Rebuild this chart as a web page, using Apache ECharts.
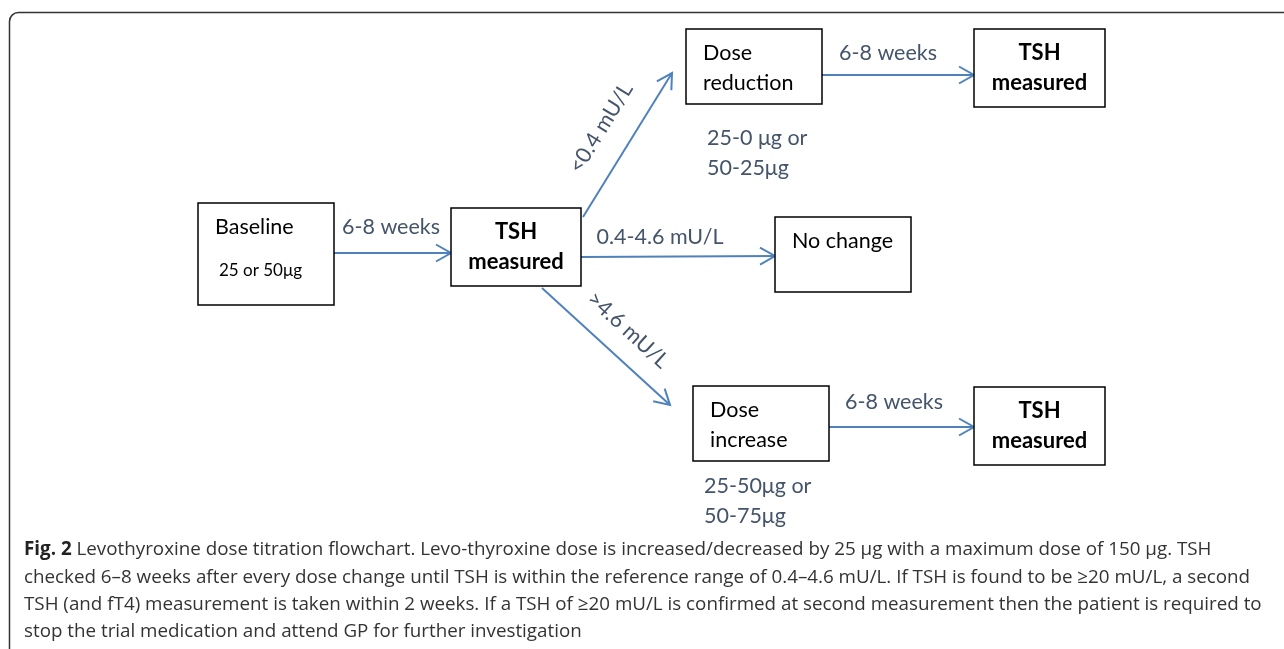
<!DOCTYPE html>
<html>
<head>
<meta charset="utf-8">
<script src="https://cdn.jsdelivr.net/npm/echarts@6/dist/echarts.min.js"></script>
<style>
  html, body { margin: 0; background: #fff; }
  #chart { width: 1284px; height: 649px; }
</style>
</head>
<body>
<div id="chart"></div>
<script>
// flowchart content, in diagram units (1 unit = 1 px of the reference)
const nodeLabels = ['Baseline', 'TSH\nmeasured', 'Dose\nreduction', 'TSH\nmeasured', 'No change', 'Dose\nincrease', 'TSH\nmeasured']
const nodeBold = [false, true, false, true, false, false, true]
const nodeBoxes = [
  [198, 203, 334, 305],
  [451, 208, 581, 286],
  [686, 29, 822, 104],
  [974, 29, 1105, 107],
  [775, 217, 911, 292],
  [693, 386, 829, 461],
  [974, 387, 1105, 465],
]
const edgePaths = [
  [334, 253, 451, 253],
  [583, 217, 672, 73],
  [581, 257, 775, 256],
  [542, 288, 670, 405],
  [822, 75, 974, 75],
  [829, 427, 974, 427],
]
const edgeLabels = ['6-8 weeks', '<0.4 mU/L', '0.4-4.6 mU/L', '>4.6 mU/L', '6-8 weeks', '6-8 weeks']
const edgeLabelAt = [[391, 227], [601, 128], [660, 237], [628, 330], [888, 53], [894, 402]]
const noteLabels = ['25 or 50μg', '25-0 μg or\n50-25μg', '25-50μg or\n50-75μg']
const noteAt = [[219, 271], [707, 138], [704, 486]]
const captionLines = [
  '{b|Fig. 2} Levothyroxine dose titration flowchart. Levo-thyroxine dose is increased/decreased by 25 μg with a maximum dose of 150 μg. TSH',
  'checked 6–8 weeks after every dose change until TSH is within the reference range of 0.4–4.6 mU/L. If TSH is found to be ≥20 mU/L, a second',
  'TSH (and fT4) measurement is taken within 2 weeks. If a TSH of ≥20 mU/L is confirmed at second measurement then the patient is required to',
  'stop the trial medication and attend GP for further investigation',
]

const FONT = 'Lato, "Open Sans", sans-serif'
const CAP_FONT = '"Open Sans", "Noto Sans", sans-serif'
const ARROW = '#4f81bd'
const LABEL = '#44546a'

const chart = echarts.init(document.getElementById('chart'))

function renderNode(params, api) {
  const i = params.dataIndex
  const b = nodeBoxes[i]
  const p0 = api.coord([b[0], b[1]])
  const p1 = api.coord([b[2], b[3]])
  const bold = nodeBold[i]
  return {
    type: 'group',
    children: [
      {
        type: 'rect',
        shape: { x: p0[0], y: p0[1], width: p1[0] - p0[0], height: p1[1] - p0[1] },
        style: { fill: '#fff', stroke: '#000', lineWidth: 1.5 },
      },
      {
        type: 'text',
        x: bold ? (p0[0] + p1[0]) / 2 : p0[0] + 17,
        y: bold ? (p0[1] + p1[1]) / 2 : p0[1] + 9,
        style: {
          text: nodeLabels[i],
          fill: '#000',
          fontFamily: FONT,
          fontSize: bold ? 22 : 21.5,
          fontWeight: bold ? 'bold' : 'normal',
          lineHeight: 30,
          align: bold ? 'center' : 'left',
          verticalAlign: bold ? 'middle' : 'top',
        },
      },
    ],
  }
}

function renderEdge(params, api) {
  const i = params.dataIndex
  const e = edgePaths[i]
  const a = api.coord([e[0], e[1]])
  const t = api.coord([e[2], e[3]])
  const ang = Math.atan2(t[1] - a[1], t[0] - a[0])
  const len = 15
  const half = 8.5
  const bx = t[0] - len * Math.cos(ang)
  const by = t[1] - len * Math.sin(ang)
  const nx = -Math.sin(ang) * half
  const ny = Math.cos(ang) * half
  const lp = api.coord(edgeLabelAt[i])
  let rot = -ang
  if (Math.abs(ang) < 0.1) rot = 0
  return {
    type: 'group',
    children: [
      {
        type: 'line',
        shape: { x1: a[0], y1: a[1], x2: t[0], y2: t[1] },
        style: { stroke: ARROW, lineWidth: 2 },
      },
      {
        type: 'polyline',
        shape: { points: [[bx + nx, by + ny], t, [bx - nx, by - ny]] },
        style: { stroke: ARROW, lineWidth: 2, fill: null },
      },
      {
        type: 'text',
        x: lp[0],
        y: lp[1],
        rotation: rot,
        style: {
          text: edgeLabels[i],
          fill: LABEL,
          fontFamily: FONT,
          fontSize: 21.5,
          align: 'center',
          verticalAlign: 'middle',
        },
      },
    ],
  }
}

function renderNote(params, api) {
  const i = params.dataIndex
  const p = api.coord(noteAt[i])
  const first = i === 0
  return {
    type: 'text',
    x: p[0],
    y: p[1] - 15,
    style: {
      text: noteLabels[i],
      fill: first ? '#000' : LABEL,
      fontFamily: FONT,
      fontSize: first ? 17 : 21.5,
      lineHeight: 30,
      align: 'left',
      verticalAlign: 'top',
    },
  }
}

const option = {
  animation: false,
  grid: { left: 0, right: 0, top: 0, bottom: 0 },
  xAxis: { type: 'value', min: 0, max: 1284, show: false },
  yAxis: { type: 'value', min: 0, max: 649, inverse: true, show: false },
  graphic: [
    {
      type: 'rect',
      shape: { x: 9.5, y: 12.5, width: 1320, height: 700, r: 9 },
      style: { fill: 'none', stroke: '#333', lineWidth: 1.5 },
    },
    ...captionLines.map((s, k) => ({
      type: 'text',
      x: 24,
      y: 550 + k * 27.3,
      style: {
        text: s,
        fill: '#333',
        fontFamily: CAP_FONT,
        fontSize: 18.8,
        verticalAlign: 'middle',
        rich: { b: { fontWeight: 'bold', fontSize: 18.8, fontFamily: CAP_FONT, fill: '#222' } },
      },
    })),
  ],
  series: [
    {
      type: 'custom',
      coordinateSystem: 'cartesian2d',
      data: edgePaths,
      renderItem: renderEdge,
      silent: true,
    },
    {
      type: 'custom',
      coordinateSystem: 'cartesian2d',
      data: nodeBoxes,
      renderItem: renderNode,
      silent: true,
    },
    {
      type: 'custom',
      coordinateSystem: 'cartesian2d',
      data: noteAt,
      renderItem: renderNote,
      silent: true,
    },
  ],
}

chart.setOption(option)
</script>
</body>
</html>
